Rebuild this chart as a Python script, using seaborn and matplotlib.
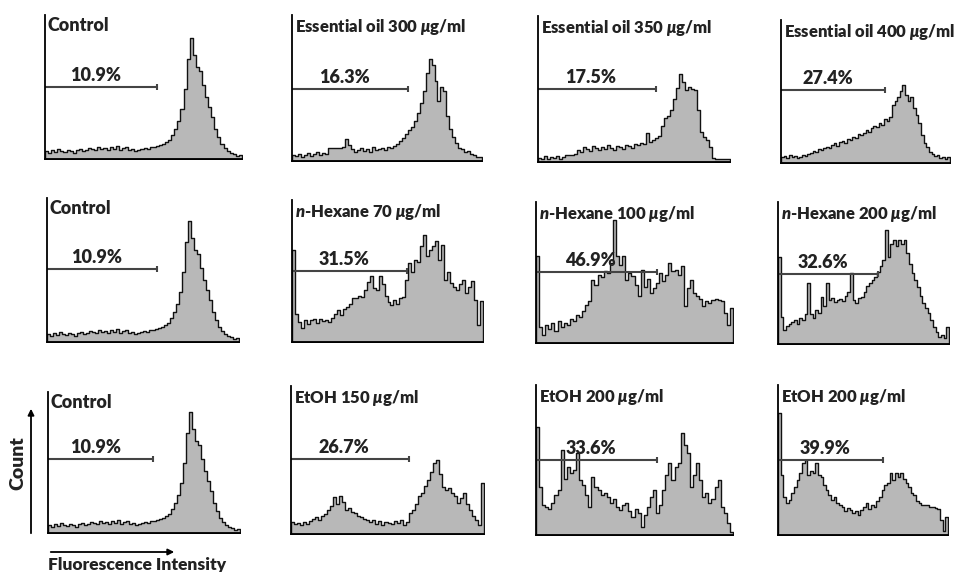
import numpy as np
import pandas as pd
import matplotlib
matplotlib.use("Agg")
import matplotlib.pyplot as plt
import seaborn as sns

sns.set_style("white")
plt.rcParams["font.family"] = ["Lato", "DejaVu Sans"]
plt.rcParams["mathtext.fontset"] = "custom"
plt.rcParams["mathtext.it"] = "Lato:italic:heavy"
plt.rcParams["mathtext.rm"] = "Lato:heavy"

# relative cell counts per fluorescence channel bin (64 bins)
control = [8, 6, 9, 7, 10, 8, 7, 9, 8, 6, 9, 10, 8, 9, 11, 10, 9, 12, 10, 11, 9, 12, 10, 13, 9, 11,
           12, 9, 10, 8, 9, 10, 11, 10, 12, 12, 13, 14, 15, 17, 19, 24, 30, 38, 50, 70, 100, 121,
           104, 92, 88, 74, 62, 52, 42, 30, 22, 15, 11, 8, 6, 5, 3, 4]
eo_300 = [6, 5, 7, 4, 6, 8, 5, 7, 9, 6, 8, 7, 13, 13, 13, 13, 13, 14, 22, 16, 12, 9, 11, 13, 10, 12,
          9, 14, 11, 12, 13, 11, 14, 13, 15, 17, 20, 23, 27, 31, 34, 40, 48, 58, 70, 88, 102, 96,
          80, 60, 74, 70, 45, 32, 24, 18, 13, 12, 9, 10, 7, 6, 4, 4]
eo_350 = [4, 3, 6, 3, 5, 4, 6, 3, 5, 7, 7, 7, 8, 12, 10, 15, 13, 11, 16, 14, 12, 15, 13, 17, 14, 12,
          16, 15, 13, 17, 16, 14, 18, 17, 19, 18, 29, 20, 22, 24, 26, 36, 44, 46, 52, 63, 74, 88,
          80, 72, 75, 73, 72, 52, 30, 25, 22, 15, 4, 3, 3, 3, 3, 3]
eo_400 = [6, 7, 5, 8, 6, 7, 5, 6, 8, 7, 9, 10, 12, 11, 14, 13, 15, 16, 15, 18, 20, 17, 21, 22, 20, 24,
          23, 26, 25, 29, 28, 30, 33, 31, 35, 37, 36, 40, 38, 44, 42, 46, 58, 62, 66, 72, 78, 68,
          62, 66, 55, 48, 40, 28, 20, 16, 11, 9, 7, 8, 5, 6, 4, 6]
hex_70 = [92, 28, 20, 14, 22, 18, 22, 23, 19, 23, 21, 22, 20, 24, 28, 32, 27, 33, 35, 38, 44, 44, 46,
          45, 52, 60, 66, 54, 52, 66, 58, 46, 40, 37, 42, 38, 44, 45, 62, 79, 70, 82, 80, 96, 107,
          86, 92, 96, 101, 82, 97, 62, 70, 59, 55, 52, 58, 62, 49, 55, 61, 42, 17, 41]
hex_100 = [87, 16, 8, 18, 14, 20, 12, 22, 16, 20, 18, 24, 22, 28, 26, 32, 38, 42, 63, 58, 68, 66, 72,
           70, 80, 123, 87, 78, 87, 63, 70, 67, 58, 47, 73, 56, 64, 50, 55, 60, 70, 62, 68, 80, 72,
           73, 68, 77, 37, 55, 63, 50, 47, 44, 37, 42, 40, 43, 44, 43, 42, 30, 18, 35]
hex_200 = [87, 27, 14, 18, 20, 22, 24, 20, 26, 24, 30, 61, 30, 26, 34, 31, 47, 38, 61, 44, 46, 42, 44,
           45, 43, 48, 52, 71, 44, 41, 46, 47, 52, 58, 61, 64, 67, 72, 78, 84, 114, 87, 100, 104,
           98, 104, 100, 104, 91, 80, 71, 64, 57, 48, 41, 36, 31, 24, 17, 12, 7, 9, 6, 17]
etoh_150 = [12, 10, 11, 9, 12, 10, 13, 15, 17, 14, 18, 20, 24, 28, 37, 30, 38, 32, 24, 26, 22, 21, 18,
            17, 15, 14, 12, 14, 10, 13, 9, 12, 11, 10, 13, 11, 14, 9, 12, 21, 24, 30, 38, 41, 48, 54,
            62, 71, 74, 60, 47, 44, 46, 41, 38, 31, 36, 41, 30, 24, 18, 14, 9, 51]
etoh_200a = [108, 48, 30, 28, 26, 32, 40, 45, 85, 56, 68, 62, 65, 82, 55, 50, 40, 28, 58, 48, 45, 40,
             42, 38, 32, 36, 28, 25, 30, 32, 24, 18, 26, 22, 8, 20, 28, 38, 45, 22, 30, 45, 60, 72,
             55, 68, 72, 102, 90, 82, 48, 60, 72, 55, 38, 42, 32, 36, 48, 55, 28, 22, 12, 3]
etoh_200b = [122, 60, 38, 32, 35, 42, 48, 55, 62, 72, 75, 60, 64, 62, 72, 60, 58, 50, 45, 40, 35, 38,
             32, 30, 28, 24, 27, 25, 22, 24, 20, 25, 28, 32, 26, 30, 28, 34, 38, 45, 50, 52, 62, 55,
             62, 58, 62, 56, 52, 48, 42, 40, 34, 32, 30, 30, 30, 28, 28, 27, 26, 15, 4, 18]

series = [control, eo_300, eo_350, eo_400,
          control, hex_70, hex_100, hex_200,
          control, etoh_150, etoh_200a, etoh_200b]
titles = ["Control", r"Essential oil 300 $\mu$g/ml", r"Essential oil 350 $\mu$g/ml",
          r"Essential oil 400 $\mu$g/ml",
          "Control", r"$n$-Hexane 70 $\mu$g/ml", r"$n$-Hexane 100 $\mu$g/ml", r"$n$-Hexane 200 $\mu$g/ml",
          "Control", r"EtOH 150 $\mu$g/ml", r"EtOH 200 $\mu$g/ml", r"EtOH 200 $\mu$g/ml"]
percent = ["10.9%", "16.3%", "17.5%", "27.4%",
           "10.9%", "31.5%", "46.9%", "32.6%",
           "10.9%", "26.7%", "33.6%", "39.9%"]
# gate marker: right end (bin) and level
gate_end = [36.4, 39.1, 39.3, 39.4, 36.7, 38.5, 39.3, 37.4, 35.0, 39.1, 39.3, 39.5]
gate_level = [72, 72, 73, 73, 73, 71, 71, 70, 74, 75, 75, 75]

# panel boxes in pixels: left, right, bottom, top (y from top of image)
boxes = [(45, 242, 159, 15), (292, 482, 161, 15), (538, 730, 162, 16), (781, 950, 163, 20),
         (47, 239, 342, 198), (292, 483, 342, 200), (536, 733, 343, 202), (778, 949, 344, 202),
         (48, 240, 533, 392), (291, 484, 534, 386), (536, 733, 535, 385), (778, 948, 535, 385)]

W, H = 960, 572
fig = plt.figure(figsize=(9.6, 5.72), dpi=100)
channel = np.arange(64) + 0.5

for i in range(12):
    l, r, b, t = boxes[i]
    ax = fig.add_axes([l / W, (H - b) / H, (r - l) / W, (b - t) / H])
    df = pd.DataFrame({"channel": channel, "count": series[i]})
    sns.histplot(data=df, x="channel", weights="count", binwidth=1, binrange=(0, 64),
                 element="step", fill=True, color="#b8b8b8", alpha=1,
                 edgecolor="#111111", linewidth=1.0, ax=ax)
    ax.set_xlim(0, 64)
    ax.set_ylim(0, b - t)
    ax.set_xticks([])
    ax.set_yticks([])
    ax.set_xlabel("")
    ax.set_ylabel("")
    sns.despine(ax=ax)
    for s in ["left", "bottom"]:
        ax.spines[s].set_color("black")
        ax.spines[s].set_linewidth(1.3)
    ax.plot([0, gate_end[i]], [gate_level[i], gate_level[i]], color="#444444", lw=1.5)
    ax.plot([gate_end[i]], [gate_level[i]], marker="|", color="#444444", ms=5, mew=1.5)
    ax.annotate(percent[i], (gate_end[i] * 0.45, gate_level[i]), xytext=(0, 2),
                textcoords="offset points", ha="center", va="bottom",
                fontsize=13, fontweight="heavy", color="#222222")
    ax.text(0.015, 0.985, titles[i], transform=ax.transAxes, ha="left", va="top",
            fontsize=13 if titles[i] == "Control" else 12, fontweight="heavy", color="#222222")

# axis arrows
fig.add_artist(matplotlib.patches.FancyArrowPatch((31 / W, (H - 536) / H), (31 / W, (H - 406) / H),
               transform=fig.transFigure, arrowstyle="-|>", mutation_scale=9, lw=1.3, color="black"))
fig.add_artist(matplotlib.patches.FancyArrowPatch((48 / W, (H - 552) / H), (177 / W, (H - 552) / H),
               transform=fig.transFigure, arrowstyle="-|>", mutation_scale=9, lw=1.3, color="black"))
fig.text(18 / W, (H - 463) / H, "Count", rotation=90, ha="center", va="center",
         fontsize=14, fontweight="heavy", color="#222222")
fig.text(48 / W, (H - 565) / H, "Fluorescence Intensity", ha="left", va="center",
         fontsize=12.5, fontweight="heavy", color="#222222")

fig.savefig("out.png", dpi=100)
